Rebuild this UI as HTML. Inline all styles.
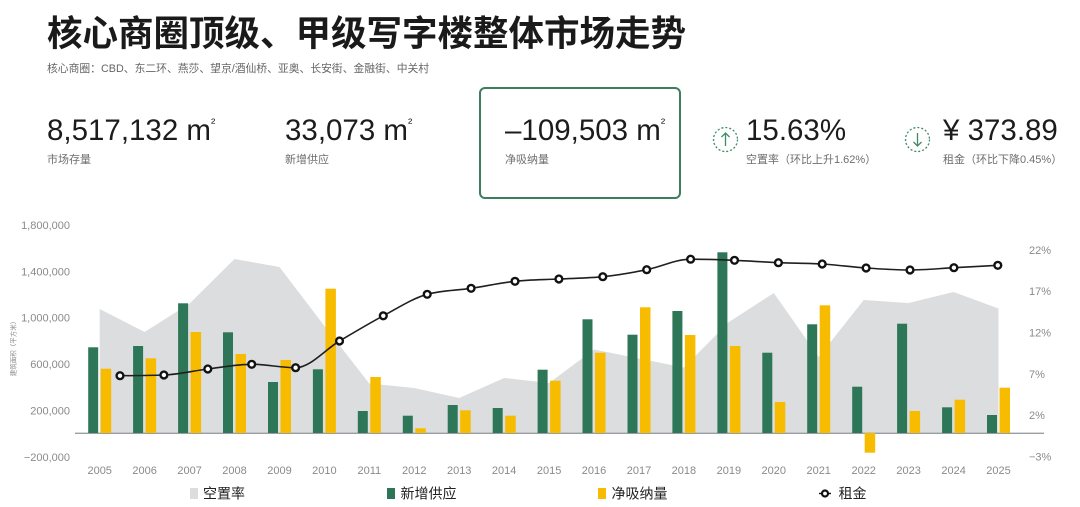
<!DOCTYPE html>
<html><head><meta charset="utf-8">
<style>
html,body{margin:0;padding:0;background:#fff;width:1080px;height:507px;overflow:hidden;}
svg{display:block;}
text{font-family:"Liberation Sans","Noto Sans CJK SC",sans-serif;}
</style></head><body>
<svg width="1080" height="507" viewBox="0 0 1080 507" xmlns="http://www.w3.org/2000/svg">
<!-- Header -->
<text x="47" y="45.5" font-size="35.5" font-weight="700" fill="#1a1a1a">核心商圈顶级、甲级写字楼整体市场走势</text>
<text x="47" y="72" font-size="10.8" fill="#666">核心商圈：CBD、东二环、燕莎、望京/酒仙桥、亚奥、长安街、金融街、中关村</text>

<!-- KPI -->
<rect x="480" y="88" width="200" height="110" rx="5" ry="5" fill="none" stroke="#3b7f5e" stroke-width="2"/>
<g fill="#1c1c1c" font-size="29.5">
<text x="47" y="140">8,517,132 m<tspan font-size="13" dy="-13">²</tspan></text>
<text x="285" y="140">33,073 m<tspan font-size="13" dy="-13">²</tspan></text>
<text x="505" y="140">–109,503 m<tspan font-size="13" dy="-13">²</tspan></text>
<text x="746" y="140">15.63%</text>
<text x="943" y="140">¥ 373.89</text>
</g>
<g fill="#6e6e6e" font-size="11">
<text x="47" y="163">市场存量</text>
<text x="285" y="163">新增供应</text>
<text x="505" y="163">净吸纳量</text>
<text x="746" y="163">空置率（环比上升1.62%）</text>
<text x="943" y="163">租金（环比下降0.45%）</text>
</g>
<!-- icons -->
<g fill="none" stroke="#3f8a63" stroke-width="1.3">
<circle cx="725.5" cy="139.5" r="12" stroke-dasharray="2 2"/>
<line x1="725.5" y1="133" x2="725.5" y2="146"/>
<polyline points="721.5,137 725.5,133 729.5,137"/>
<circle cx="917.5" cy="139.5" r="12" stroke-dasharray="2 2"/>
<line x1="917.5" y1="133" x2="917.5" y2="146"/>
<polyline points="913.5,142 917.5,146 921.5,142"/>
</g>

<!-- Vacancy area -->
<path fill="#dcdddf" d="M99.7,433 L99.7,309 L144.6,332 L189.6,303.5 L234.5,259 L279.5,267 L324.4,326 L369.3,383.5 L414.3,388 L459.2,398 L504.1,378 L549.1,383 L594,349.5 L639,358.5 L683.9,367.5 L728.9,322 L773.8,293 L818.7,357 L863.7,300 L908.6,303 L953.6,292 L998.5,308.5 L998.5,433 Z"/>

<!-- baseline -->
<line x1="75" y1="433.3" x2="1044" y2="433.3" stroke="#9a9ea3" stroke-width="1.4"/>

<!-- Green bars -->
<g fill="#2e7658">
<rect x="88.2" y="347.3" width="10" height="85.7"/>
<rect x="133.1" y="346" width="10" height="87"/>
<rect x="178.1" y="303.3" width="10" height="129.7"/>
<rect x="223.0" y="332.3" width="10" height="100.7"/>
<rect x="268.0" y="382" width="10" height="51"/>
<rect x="312.9" y="369.3" width="10" height="63.7"/>
<rect x="357.8" y="411" width="10" height="22"/>
<rect x="402.8" y="415.7" width="10" height="17.3"/>
<rect x="447.7" y="405" width="10" height="28"/>
<rect x="492.7" y="408" width="10" height="25"/>
<rect x="537.6" y="369.7" width="10" height="63.3"/>
<rect x="582.5" y="319.3" width="10" height="113.7"/>
<rect x="627.5" y="334.7" width="10" height="98.3"/>
<rect x="672.4" y="311" width="10" height="122"/>
<rect x="717.4" y="252.3" width="10" height="180.7"/>
<rect x="762.3" y="352.7" width="10" height="80.3"/>
<rect x="807.2" y="324.3" width="10" height="108.7"/>
<rect x="852.2" y="386.7" width="10" height="46.3"/>
<rect x="897.1" y="323.7" width="10" height="109.3"/>
<rect x="942.1" y="407.3" width="10" height="25.7"/>
<rect x="987" y="415" width="10" height="18"/>
</g>
<!-- Yellow bars -->
<g fill="#f7bc00">
<rect x="100.7" y="368.7" width="10.5" height="64.3"/>
<rect x="145.6" y="358.3" width="10.5" height="74.7"/>
<rect x="190.6" y="332" width="10.5" height="101"/>
<rect x="235.5" y="354" width="10.5" height="79"/>
<rect x="280.5" y="360" width="10.5" height="73"/>
<rect x="325.4" y="288.7" width="10.5" height="144.3"/>
<rect x="370.3" y="377" width="10.5" height="56"/>
<rect x="415.3" y="428.3" width="10.5" height="4.7"/>
<rect x="460.2" y="410.3" width="10.5" height="22.7"/>
<rect x="505.2" y="415.7" width="10.5" height="17.3"/>
<rect x="550.1" y="380.7" width="10.5" height="52.3"/>
<rect x="595.0" y="352.7" width="10.5" height="80.3"/>
<rect x="640.0" y="307.3" width="10.5" height="125.7"/>
<rect x="684.9" y="335" width="10.5" height="98"/>
<rect x="729.9" y="346" width="10.5" height="87"/>
<rect x="774.8" y="402" width="10.5" height="31"/>
<rect x="819.7" y="305.3" width="10.5" height="127.7"/>
<rect x="864.7" y="433" width="10.5" height="19.7"/>
<rect x="909.6" y="411" width="10.5" height="22"/>
<rect x="954.6" y="399.7" width="10.5" height="33.3"/>
<rect x="999.5" y="387.7" width="10.5" height="45.3"/>
</g>

<!-- Rent line -->
<path id="rent" fill="none" stroke="#1f1f1f" stroke-width="1.6" d="M120,375.7 L163.9,375 L207.8,369 L251.7,364.3 L295.6,367.7 L339.5,341 L383.3,315.8 L427.2,294.3 L471.1,288.3 L515,281.3 L558.9,279 L602.8,276.7 L646.7,269.7 L690.6,259.2 L734.5,260.3 L778.4,262.7 L822.2,264 L866.1,268 L910,270 L953.9,267.7 L997.8,265.3"/>
<g id="markers" fill="#fff" stroke="#111" stroke-width="2.4">
<circle cx="120" cy="375.7" r="3.4"/>
<circle cx="163.9" cy="375" r="3.4"/>
<circle cx="207.8" cy="369" r="3.4"/>
<circle cx="251.7" cy="364.3" r="3.4"/>
<circle cx="295.6" cy="367.7" r="3.4"/>
<circle cx="339.5" cy="341" r="3.4"/>
<circle cx="383.3" cy="315.8" r="3.4"/>
<circle cx="427.2" cy="294.3" r="3.4"/>
<circle cx="471.1" cy="288.3" r="3.4"/>
<circle cx="515" cy="281.3" r="3.4"/>
<circle cx="558.9" cy="279" r="3.4"/>
<circle cx="602.8" cy="276.7" r="3.4"/>
<circle cx="646.7" cy="269.7" r="3.4"/>
<circle cx="690.6" cy="259.2" r="3.4"/>
<circle cx="734.5" cy="260.3" r="3.4"/>
<circle cx="778.4" cy="262.7" r="3.4"/>
<circle cx="822.2" cy="264" r="3.4"/>
<circle cx="866.1" cy="268" r="3.4"/>
<circle cx="910" cy="270" r="3.4"/>
<circle cx="953.9" cy="267.7" r="3.4"/>
<circle cx="997.8" cy="265.3" r="3.4"/>
</g>

<!-- Left axis -->
<g fill="#8a8a8a" font-size="11" text-anchor="end">
<text x="70" y="229">1,800,000</text>
<text x="70" y="275.5">1,400,000</text>
<text x="70" y="321.5">1,000,000</text>
<text x="70" y="368">600,000</text>
<text x="70" y="414.5">200,000</text>
<text x="70" y="461">−200,000</text>
</g>
<text transform="translate(15.5,347) rotate(-90)" font-size="6.5" fill="#888" text-anchor="middle">建筑面积（平方米）</text>
<!-- Right axis -->
<g fill="#8a8a8a" font-size="11">
<text x="1029" y="254">22%</text>
<text x="1029" y="295">17%</text>
<text x="1029" y="336.5">12%</text>
<text x="1029" y="378">7%</text>
<text x="1029" y="419">2%</text>
<text x="1029" y="460.5">−3%</text>
</g>
<!-- Year labels -->
<g fill="#8a8a8a" font-size="11" text-anchor="middle">
<text x="99.7" y="474">2005</text>
<text x="144.6" y="474">2006</text>
<text x="189.6" y="474">2007</text>
<text x="234.5" y="474">2008</text>
<text x="279.5" y="474">2009</text>
<text x="324.4" y="474">2010</text>
<text x="369.3" y="474">2011</text>
<text x="414.3" y="474">2012</text>
<text x="459.2" y="474">2013</text>
<text x="504.1" y="474">2014</text>
<text x="549.1" y="474">2015</text>
<text x="594" y="474">2016</text>
<text x="639" y="474">2017</text>
<text x="683.9" y="474">2018</text>
<text x="728.9" y="474">2019</text>
<text x="773.8" y="474">2020</text>
<text x="818.7" y="474">2021</text>
<text x="863.7" y="474">2022</text>
<text x="908.6" y="474">2023</text>
<text x="953.6" y="474">2024</text>
<text x="998.5" y="474">2025</text>
</g>

<!-- Legend -->
<rect x="190" y="488" width="8" height="11" fill="#dcdddf"/>
<text x="203" y="498.5" font-size="14" fill="#222">空置率</text>
<rect x="387" y="488" width="8" height="11" fill="#2e7658"/>
<text x="400.5" y="498.5" font-size="14" fill="#222">新增供应</text>
<rect x="598" y="488" width="8" height="11" fill="#f7bc00"/>
<text x="611.5" y="498.5" font-size="14" fill="#222">净吸纳量</text>
<line x1="819" y1="493.5" x2="831" y2="493.5" stroke="#111" stroke-width="1.4"/>
<circle cx="825" cy="493.5" r="3" fill="#fff" stroke="#111" stroke-width="2.2"/>
<text x="838.5" y="498.5" font-size="14" fill="#222">租金</text>
</svg>
<script>
(function(){
  var xs=[120,163.9,207.8,251.7,295.6,339.5,383.3,427.2,471.1,515,558.9,602.8,646.7,690.6,734.5,778.4,822.2,866.1,910,953.9,997.8];
  var ys=[375.7,375,369,364.3,367.7,341,315.8,294.3,288.3,281.3,279,276.7,269.7,259.2,260.3,262.7,264,268,270,267.7,265.3];
  var n=xs.length, t=[];
  function sgn(v){return v<0?-1:1;}
  for(var i=1;i<n-1;i++){
    var h0=xs[i]-xs[i-1],h1=xs[i+1]-xs[i];
    var s0=(ys[i]-ys[i-1])/h0,s1=(ys[i+1]-ys[i])/h1;
    var p=(s0*h1+s1*h0)/(h0+h1);
    t[i]=(sgn(s0)+sgn(s1))*Math.min(Math.abs(s0),Math.abs(s1),0.5*Math.abs(p))||0;
  }
  var hA=xs[1]-xs[0]; t[0]=(3*(ys[1]-ys[0])/hA-t[1])/2;
  var hB=xs[n-1]-xs[n-2]; t[n-1]=(3*(ys[n-1]-ys[n-2])/hB-t[n-2])/2;
  var d="M"+xs[0]+","+ys[0];
  for(var j=0;j<n-1;j++){
    var dx=(xs[j+1]-xs[j])/3;
    d+=" C"+(xs[j]+dx).toFixed(2)+","+(ys[j]+dx*t[j]).toFixed(2)+" "+(xs[j+1]-dx).toFixed(2)+","+(ys[j+1]-dx*t[j+1]).toFixed(2)+" "+xs[j+1]+","+ys[j+1];
  }
  document.getElementById("rent").setAttribute("d",d);
})();
</script>
</body></html>
